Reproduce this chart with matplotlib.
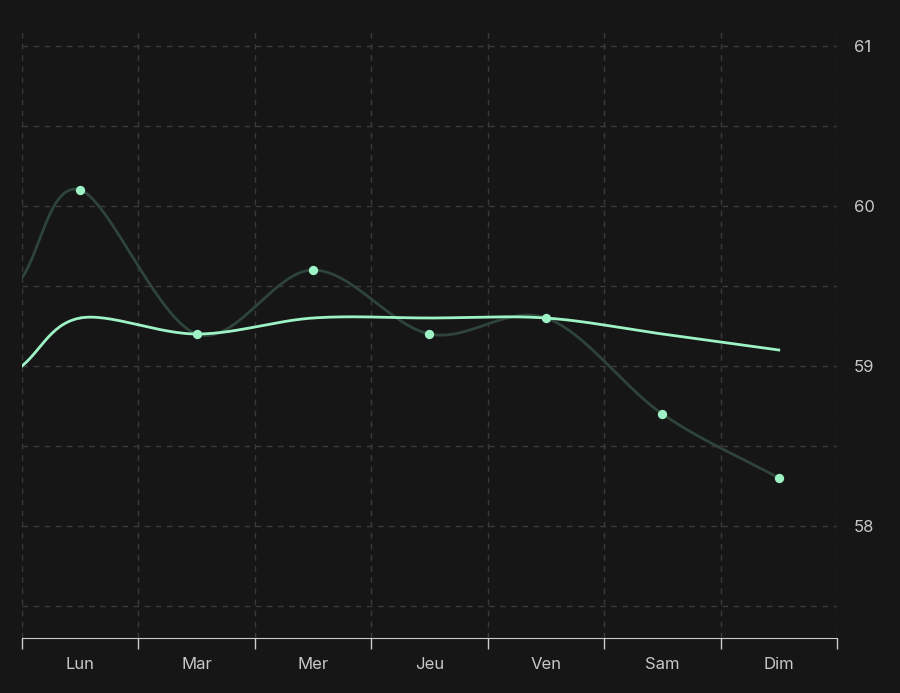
import numpy as np
import matplotlib.pyplot as plt

plt.rcParams['font.family'] = ['Inter', 'DejaVu Sans']

days = ['Lun', 'Mar', 'Mer', 'Jeu', 'Ven', 'Sam', 'Dim']
points = [60.1, 59.2, 59.6, 59.2, 59.3, 58.7, 58.3]
trend = [59.3, 59.2, 59.3, 59.3, 59.3, 59.2, 59.1]
# values where the curves leave the left edge of the plot
points_edge = 59.55
trend_edge = 59.0

BG = '#161616'
MINT = '#9ef3c6'
DARK = '#2e443b'


def smooth(xs, ys, n=30):
    # Catmull-Rom curve through the given points
    xs = np.asarray(xs, float)
    ys = np.asarray(ys, float)
    px = np.concatenate([[2 * xs[0] - xs[1]], xs, [2 * xs[-1] - xs[-2]]])
    py = np.concatenate([[2 * ys[0] - ys[1]], ys, [2 * ys[-1] - ys[-2]]])
    ox, oy = [], []
    t = np.linspace(0, 1, n)
    for i in range(1, len(px) - 2):
        for p, o in ((px, ox), (py, oy)):
            p0, p1, p2, p3 = p[i - 1], p[i], p[i + 1], p[i + 2]
            o.extend(0.5 * (2 * p1 + (-p0 + p2) * t
                            + (2 * p0 - 5 * p1 + 4 * p2 - p3) * t ** 2
                            + (-p0 + 3 * p1 - 3 * p2 + p3) * t ** 3))
    return ox, oy


fig = plt.figure(figsize=(9, 6.93), dpi=100, facecolor=BG)
ax = fig.add_axes([22 / 900, 55 / 693, 815 / 900, 608 / 693], facecolor=BG)

x = np.arange(len(days))
xe = np.concatenate([[-0.5], x])

sx, sy = smooth(xe, [points_edge] + points)
ax.plot(sx, sy, color=DARK, lw=2, zorder=2)
tx, ty = smooth(xe, [trend_edge] + trend)
ax.plot(tx, ty, color=MINT, lw=2, zorder=3)
ax.scatter(x, points, s=45, color=MINT, zorder=4, linewidths=0)

ax.set_xlim(-0.5, 6.5)
ax.set_ylim(57.3, 61.1)

ax.set_xticks(x)
ax.set_xticklabels(days)
ax.set_xticks(np.arange(-0.5, 7, 1), minor=True)
ax.tick_params(axis='x', which='major', length=0, pad=14, labelcolor='#c8c8c8', labelsize=12)
ax.tick_params(axis='x', which='minor', length=8, color='#cccccc', width=1)

ax.yaxis.tick_right()
ax.set_yticks([58, 59, 60, 61])
ax.set_yticks([57.5, 58.5, 59.5, 60.5], minor=True)
ax.tick_params(axis='y', which='both', length=0, pad=12, labelcolor='#c8c8c8', labelsize=12)

grid = dict(color='#3a3a3a', ls=(0, (4, 4)), lw=1)
ax.grid(True, which='minor', axis='both', **grid)
ax.grid(True, which='major', axis='y', **grid)
for s in ['top', 'left', 'right']:
    ax.spines[s].set_visible(False)
ax.spines['bottom'].set_color('#cccccc')

fig.savefig('out.png', dpi=100, facecolor=BG)
